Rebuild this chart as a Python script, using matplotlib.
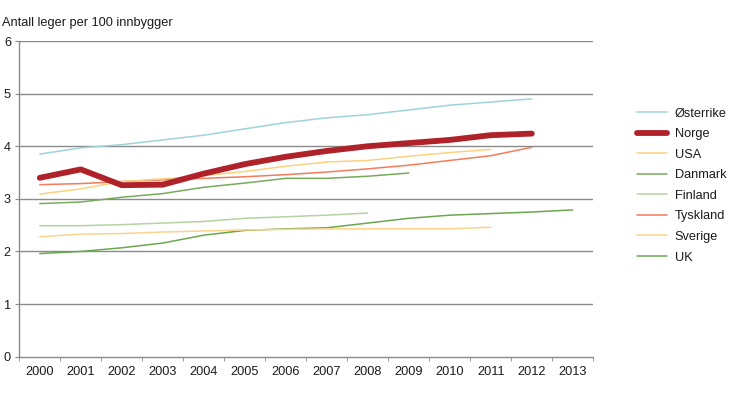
import numpy as np
import matplotlib.pyplot as plt

plt.rcParams['font.family'] = ['Liberation Sans', 'DejaVu Sans']

years = [str(y) for y in range(2000, 2014)]

# Antall leger per 100 innbyggere
osterrike = [3.85, 3.97, 4.03, 4.12, 4.21, 4.33, 4.45, 4.54, 4.60, 4.69, 4.78, 4.84, 4.90]
norge = [3.40, 3.56, 3.26, 3.27, 3.48, 3.66, 3.80, 3.91, 4.00, 4.06, 4.12, 4.21, 4.24]
usa = [3.09, 3.19, 3.33, 3.38, 3.44, 3.52, 3.62, 3.70, 3.73, 3.81, 3.88, 3.94]
danmark = [2.91, 2.94, 3.03, 3.10, 3.22, 3.30, 3.39, 3.39, 3.43, 3.49]
finland = [2.49, 2.49, 2.51, 2.54, 2.57, 2.63, 2.66, 2.69, 2.73]
tyskland = [3.27, 3.29, 3.33, 3.36, 3.39, 3.42, 3.46, 3.51, 3.57, 3.64, 3.73, 3.82, 3.98]
sverige = [2.28, 2.33, 2.34, 2.37, 2.39, 2.41, 2.42, 2.43, 2.43, 2.43, 2.43, 2.46]
uk = [1.96, 2.00, 2.07, 2.16, 2.31, 2.40, 2.43, 2.45, 2.54, 2.63, 2.69, 2.72, 2.75, 2.79]

series = [
    ('Østerrike', osterrike, '#9fd4d6', 1.1),
    ('Norge', norge, '#b0222a', 4.2),
    ('USA', usa, '#fdd17f', 1.1),
    ('Danmark', danmark, '#77ab5c', 1.1),
    ('Finland', finland, '#b6d3a1', 1.1),
    ('Tyskland', tyskland, '#f47b5c', 1.1),
    ('Sverige', sverige, '#fdd38a', 1.1),
    ('UK', uk, '#6aa84f', 1.1),
]

fs = 9.2
fig = plt.figure(figsize=(7.30, 3.97), dpi=100)
ax = fig.add_axes([0.0264, 0.1015, 0.7863, 0.7952])

grid_col = '#8a8a8a'
for v in range(1, 7):
    ax.axhline(v, color=grid_col, lw=1.0, zorder=1)

# draw in reverse so Norge and top entries sit on top
for name, vals, col, lw in series[::-1]:
    x = np.arange(len(vals))
    ax.plot(x, vals, color=col, lw=lw, solid_capstyle='round',
            solid_joinstyle='round', label=name, zorder=3 if name == 'Norge' else 2)

ax.set_xlim(-0.5, 13.5)
ax.set_ylim(0, 6)
ax.set_xticks(np.arange(len(years)))
ax.set_xticklabels(years)
ax.set_xticks(np.arange(-0.5, 14, 1), minor=True)
ax.tick_params(axis='x', which='major', length=0, pad=7, labelsize=fs, colors='#1a1a1a')
ax.tick_params(axis='x', which='minor', length=3, color=grid_col, direction='out')
ax.set_yticks(range(0, 7))
ax.tick_params(axis='y', length=3, labelsize=fs, pad=3, colors='#1a1a1a')
ax.tick_params(axis='y', color=grid_col)

for s in ['top', 'right']:
    ax.spines[s].set_visible(False)
for s in ['left', 'bottom']:
    ax.spines[s].set_color(grid_col)
    ax.spines[s].set_linewidth(1.0)

fig.text(0.003, 0.943, 'Antall leger per 100 innbygger', fontsize=fs,
         color='#1a1a1a', va='center', ha='left')

handles, labels = ax.get_legend_handles_labels()
handles, labels = handles[::-1], labels[::-1]
leg = fig.legend(handles, labels, loc='upper left', bbox_to_anchor=(0.8726, 0.729),
                 frameon=False, fontsize=fs, handlelength=2.35, handletextpad=0.6,
                 labelspacing=0.67, borderaxespad=0, borderpad=0)
for t in leg.get_texts():
    t.set_color('#1a1a1a')

fig.savefig('out.png', dpi=100)
